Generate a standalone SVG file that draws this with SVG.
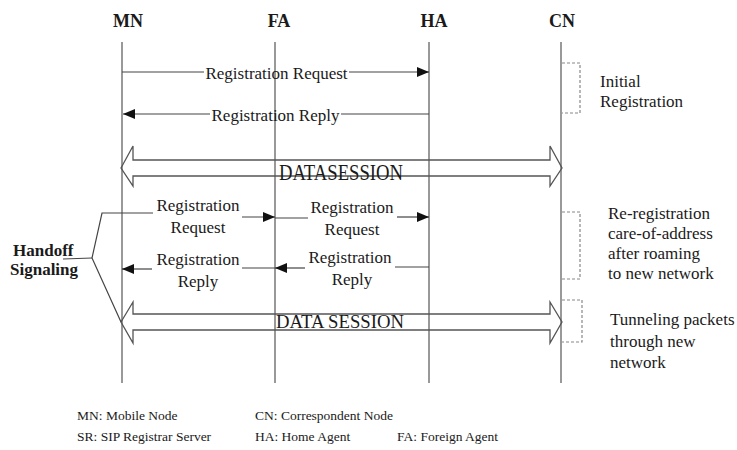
<svg xmlns="http://www.w3.org/2000/svg" width="737" height="450" viewBox="0 0 737 450">
<style>
text{font-family:"Liberation Serif","Times New Roman",serif;fill:#1a1a1a}
.hdr{font-size:18px;font-weight:bold;text-anchor:middle}
.lbl{font-size:17px;text-anchor:middle}
.side{font-size:17px}
.leg{font-size:13.5px}
.ll{stroke:#555;stroke-width:1.2;fill:none}
.msg{stroke:#444;stroke-width:1.2;fill:none}
.dash{stroke:#888;stroke-width:1.2;fill:none;stroke-dasharray:3 2}
.ds{stroke:#555;stroke-width:1.3;fill:none}
.big{font-size:18.7px;text-anchor:middle}
</style>
<defs>
<marker id="ah" viewBox="0 0 12 10" refX="12" refY="5" markerWidth="12" markerHeight="10" markerUnits="userSpaceOnUse" orient="auto">
<path d="M0,0 L12,5 L0,10 Z" fill="#111"/>
</marker>
</defs>
<g id="MN"><text class="hdr" x="128" y="27">MN</text><line class="ll" x1="122" y1="42" x2="122" y2="383"/></g>
<g id="FA"><text class="hdr" x="279" y="27">FA</text><line class="ll" x1="275" y1="42" x2="275" y2="383"/></g>
<g id="HA"><text class="hdr" x="434" y="27">HA</text><line class="ll" x1="429" y1="42" x2="429" y2="383"/></g>
<g id="CN"><text class="hdr" x="562" y="27">CN</text><line class="ll" x1="561" y1="42" x2="561" y2="383"/></g>
<g id="connectors">
<line class="msg" x1="122" y1="72" x2="204" y2="72"/>
<line class="msg" x1="349" y1="72" x2="429" y2="72" marker-end="url(#ah)"/>
<text class="lbl" x="276.5" y="79">Registration Request</text>
<line class="msg" x1="429" y1="114" x2="341" y2="114"/>
<line class="msg" x1="210" y1="114" x2="123" y2="114" marker-end="url(#ah)"/>
<text class="lbl" x="275.5" y="121">Registration Reply</text>
<path class="ds" d="M121,168 L133,146 L133,160 L550,160 L550,146 L562,168 L550,186 L550,176 L133,176 L133,186 Z"/>
<text class="big" x="341" y="180" transform="translate(0,180) scale(1,1.25) translate(0,-180)">DATASESSION</text>
<line class="msg" x1="242" y1="217" x2="275" y2="217" marker-end="url(#ah)"/>
<line class="msg" x1="275" y1="218" x2="308" y2="218"/>
<line class="msg" x1="397" y1="217" x2="429" y2="217" marker-end="url(#ah)"/>
<text class="lbl" x="198" y="211">Registration</text>
<text class="lbl" x="198" y="233">Request</text>
<text class="lbl" x="352" y="213">Registration</text>
<text class="lbl" x="352" y="235">Request</text>
<line class="msg" x1="429" y1="267" x2="395" y2="267"/>
<line class="msg" x1="305" y1="268" x2="275" y2="268" marker-end="url(#ah)"/>
<line class="msg" x1="275" y1="268" x2="242" y2="268"/>
<line class="msg" x1="152" y1="269" x2="122" y2="269" marker-end="url(#ah)"/>
<text class="lbl" x="198" y="265">Registration</text>
<text class="lbl" x="198" y="287">Reply</text>
<text class="lbl" x="350" y="263">Registration</text>
<text class="lbl" x="352" y="285">Reply</text>
<path class="ds" d="M121,322 L133,302 L133,314 L550,314 L550,302 L562,322 L550,343 L550,330 L133,330 L133,343 Z"/>
<text class="big" x="340" y="328">DATA SESSION</text>
<polyline class="msg" points="153,213 102,213 92,258 121,322"/>
<line class="msg" x1="63" y1="259" x2="92" y2="258"/>
</g>
<g id="handoff">
<text x="13" y="256" style="font-size:17px;font-weight:bold">Handoff</text>
<text x="10" y="275" style="font-size:17px;font-weight:bold">Signaling</text>
</g>
<g id="brackets">
<polyline class="dash" points="562,63 580,63 580,113 562,113"/>
<polyline class="dash" points="562,212 580,212 580,279 562,279"/>
<polyline class="dash" points="562,300 582,300 582,342 562,342"/>
</g>
<g id="notes">
<text class="side" x="600" y="87">Initial</text>
<text class="side" x="600" y="107">Registration</text>
<text class="side" x="608" y="219">Re-registration</text>
<text class="side" x="608" y="239">care-of-address</text>
<text class="side" x="608" y="259">after roaming</text>
<text class="side" x="608" y="279">to new network</text>
<text class="side" x="610" y="325">Tunneling packets</text>
<text class="side" x="610" y="347">through new</text>
<text class="side" x="610" y="368">network</text>
</g>
<g id="legend">
<text class="leg" x="77" y="420">MN: Mobile Node</text>
<text class="leg" x="77" y="441">SR: SIP Registrar Server</text>
<text class="leg" x="255" y="420">CN: Correspondent Node</text>
<text class="leg" x="255" y="441">HA: Home Agent</text>
<text class="leg" x="397" y="441">FA: Foreign Agent</text>
</g>
</svg>
